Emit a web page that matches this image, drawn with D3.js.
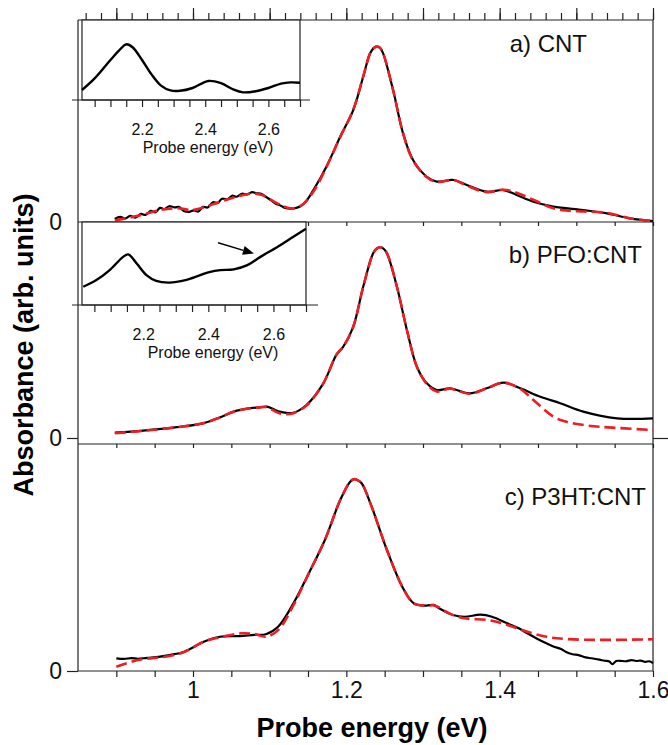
<!DOCTYPE html>
<html>
<head>
<meta charset="utf-8">
<script src="https://cdn.jsdelivr.net/npm/d3@7/dist/d3.min.js"></script>
<style>
  body { margin: 0; background: #fff; }
  svg { display: block; font-family: "Liberation Sans", Arial, sans-serif; }
</style>
</head>
<body>
<svg id="chart" width="668" height="745"></svg>
<script>
// ---- data: [probe energy (eV), absorbance (arb. units)] ----
const cntMeasured = [
  [0.898,0.015],[0.905,0.025],[0.912,0.018],[0.918,0.030],[0.925,0.022],[0.932,0.040],
  [0.938,0.035],[0.945,0.055],[0.951,0.048],[0.957,0.070],[0.963,0.064],[0.969,0.078],
  [0.976,0.072],[0.982,0.074],[0.988,0.055],[0.995,0.050],[1.001,0.058],[1.007,0.052],
  [1.013,0.075],[1.019,0.072],[1.026,0.098],[1.032,0.094],[1.038,0.115],[1.045,0.112],
  [1.051,0.130],[1.057,0.125],[1.064,0.140],[1.070,0.136],[1.077,0.148],[1.083,0.142],
  [1.089,0.140],[1.095,0.125],[1.101,0.110],[1.108,0.090],[1.114,0.082],[1.120,0.070],
  [1.127,0.066],[1.133,0.068],[1.140,0.078],[1.147,0.100],[1.157,0.158],[1.174,0.274],
  [1.192,0.422],[1.209,0.554],[1.222,0.719],[1.231,0.835],[1.236,0.862],[1.240,0.868],
  [1.244,0.862],[1.248,0.835],[1.261,0.653],[1.274,0.439],[1.287,0.307],[1.305,0.224],
  [1.318,0.200],[1.340,0.208],[1.357,0.183],[1.383,0.150],[1.405,0.158],[1.422,0.134],
  [1.444,0.100],[1.470,0.076],[1.509,0.059],[1.540,0.043],[1.570,0.018],[1.600,0.005]
];
const cntFit = [
  [0.898,0.008],[0.930,0.032],[0.960,0.062],[0.980,0.068],[1.000,0.060],[1.020,0.080],
  [1.050,0.118],[1.075,0.140],[1.090,0.134],[1.110,0.092],[1.127,0.068],[1.140,0.078],
  [1.157,0.150],[1.174,0.272],[1.192,0.420],[1.209,0.556],[1.222,0.720],[1.231,0.835],
  [1.236,0.862],[1.240,0.868],[1.244,0.862],[1.248,0.835],[1.261,0.653],[1.274,0.440],
  [1.287,0.305],[1.305,0.222],[1.318,0.198],[1.340,0.208],[1.357,0.180],[1.383,0.148],
  [1.405,0.160],[1.422,0.145],[1.444,0.110],[1.470,0.068],[1.490,0.056],[1.509,0.052],
  [1.540,0.045],[1.570,0.018],[1.600,0.004]
];
const pfoMeasured = [
  [0.898,0.025],[0.935,0.034],[0.979,0.050],[1.013,0.068],[1.035,0.095],[1.053,0.122],
  [1.075,0.138],[1.087,0.142],[1.096,0.145],[1.106,0.132],[1.113,0.122],[1.122,0.116],
  [1.131,0.117],[1.148,0.153],[1.170,0.253],[1.187,0.385],[1.196,0.423],[1.209,0.515],
  [1.222,0.700],[1.235,0.855],[1.240,0.878],[1.244,0.883],[1.248,0.878],[1.253,0.855],
  [1.266,0.700],[1.279,0.500],[1.292,0.330],[1.305,0.253],[1.318,0.222],[1.335,0.230],
  [1.361,0.207],[1.383,0.230],[1.405,0.256],[1.427,0.230],[1.453,0.191],[1.479,0.161],
  [1.509,0.122],[1.553,0.091],[1.600,0.091]
];
const pfoFit = [
  [0.898,0.022],[0.935,0.033],[0.979,0.050],[1.013,0.068],[1.035,0.095],[1.053,0.122],
  [1.075,0.138],[1.087,0.142],[1.096,0.143],[1.106,0.126],[1.113,0.114],[1.122,0.110],
  [1.131,0.115],[1.148,0.150],[1.170,0.253],[1.187,0.385],[1.196,0.423],[1.209,0.515],
  [1.222,0.700],[1.235,0.855],[1.240,0.878],[1.244,0.883],[1.248,0.878],[1.253,0.855],
  [1.266,0.700],[1.279,0.500],[1.292,0.330],[1.305,0.250],[1.318,0.215],[1.335,0.228],
  [1.361,0.205],[1.383,0.230],[1.405,0.256],[1.427,0.228],[1.444,0.176],[1.470,0.099],
  [1.487,0.075],[1.510,0.060],[1.531,0.052],[1.600,0.037]
];
const p3htMeasured = [
  [0.900,0.056],[0.910,0.053],[0.920,0.057],[0.928,0.054],[0.940,0.058],[0.955,0.062],
  [0.969,0.070],[0.989,0.085],[1.014,0.129],[1.035,0.151],[1.060,0.154],[1.080,0.159],
  [1.095,0.162],[1.111,0.195],[1.131,0.298],[1.151,0.430],[1.172,0.577],[1.192,0.753],
  [1.205,0.834],[1.210,0.845],[1.215,0.840],[1.220,0.827],[1.233,0.724],[1.253,0.533],
  [1.273,0.371],[1.288,0.298],[1.304,0.288],[1.314,0.291],[1.321,0.276],[1.339,0.247],
  [1.354,0.239],[1.375,0.248],[1.390,0.239],[1.410,0.210],[1.425,0.188],[1.436,0.166],
  [1.450,0.140],[1.461,0.122],[1.470,0.108],[1.480,0.097],[1.486,0.085],[1.495,0.074],
  [1.503,0.070],[1.512,0.060],[1.520,0.056],[1.530,0.050],[1.537,0.045],[1.543,0.042],
  [1.547,0.030],[1.552,0.044],[1.557,0.045],[1.565,0.043],[1.572,0.048],[1.578,0.044],
  [1.584,0.046],[1.590,0.040],[1.595,0.043],[1.600,0.035]
];
const p3htFit = [
  [0.900,0.019],[0.928,0.048],[0.969,0.066],[0.989,0.085],[1.014,0.129],[1.035,0.148],
  [1.063,0.166],[1.080,0.163],[1.095,0.151],[1.111,0.180],[1.131,0.290],[1.151,0.430],
  [1.172,0.577],[1.192,0.753],[1.205,0.834],[1.210,0.845],[1.215,0.840],[1.220,0.827],
  [1.233,0.724],[1.253,0.533],[1.273,0.371],[1.288,0.298],[1.304,0.288],[1.314,0.289],
  [1.321,0.280],[1.334,0.254],[1.354,0.232],[1.384,0.225],[1.410,0.203],[1.436,0.173],
  [1.461,0.151],[1.486,0.141],[1.537,0.137],[1.600,0.140]
];
// insets (visible range)
const cntVisible = [
  [2.010,0.125],[2.050,0.270],[2.100,0.500],[2.130,0.630],[2.150,0.696],[2.170,0.660],
  [2.200,0.500],[2.230,0.320],[2.260,0.180],[2.290,0.120],[2.320,0.115],[2.360,0.150],
  [2.410,0.238],[2.450,0.210],[2.490,0.130],[2.520,0.096],[2.560,0.110],[2.600,0.150],
  [2.640,0.205],[2.670,0.220],[2.700,0.215]
];
const pfoVisible = [
  [2.016,0.220],[2.056,0.300],[2.097,0.420],[2.138,0.580],[2.154,0.610],[2.180,0.500],
  [2.210,0.360],[2.240,0.290],[2.280,0.270],[2.330,0.300],[2.375,0.360],[2.406,0.400],
  [2.437,0.420],[2.478,0.430],[2.520,0.480],[2.560,0.580],[2.612,0.700],[2.660,0.820],
  [2.700,0.920]
];
const xTickLabels = [1, 1.2, 1.4, 1.6];
const insetTickLabels = [2.2, 2.4, 2.6];
const panelNames = ["a) CNT", "b) PFO:CNT", "c) P3HT:CNT"];
const arrowFrom = [2.43, 0.75];
const arrowTo = [2.54, 0.62];

// ---- layout ----
const svg = d3.select("#chart");
const left = 78, right = 653;
const x = d3.scaleLinear().domain([0.85, 1.6]).range([left, right]);
const near = (arr, d) => arr.some(v => Math.abs(v - d) < 1e-6);

const panels = [
  { name: panelNames[0], top: 20, zero: 222, measured: cntMeasured, fit: cntFit, lx: 587, ly: 52 },
  { name: panelNames[1], top: 222, zero: 438, measured: pfoMeasured, fit: pfoFit, lx: 642, ly: 263 },
  { name: panelNames[2], top: 444, zero: 671, measured: p3htMeasured, fit: p3htFit, lx: 646, ly: 505 }
];

const frame = svg.append("g").attr("stroke", "#222").attr("stroke-width", 1.2).attr("fill", "none");
// outer frame + panel dividers
frame.append("line").attr("x1", left).attr("x2", left).attr("y1", 20).attr("y2", 671);
frame.append("line").attr("x1", right).attr("x2", right).attr("y1", 20).attr("y2", 671);
[20, 222, 444, 671].forEach(yy =>
  frame.append("line").attr("x1", left).attr("x2", right).attr("y1", yy).attr("y2", yy));

const minorE = d3.range(18, 33).map(i => +(i * 0.05).toFixed(2));

function styleAxis(g) {
  g.select(".domain").remove();
  g.selectAll(".tick line").attr("stroke", "#222").attr("stroke-width", 1.2);
  g.selectAll("text").attr("fill", "#111");
}

// top axis of panel a
svg.append("g").attr("transform", "translate(0,20)")
  .call(d3.axisTop(x).tickValues(d3.range(43, 81).map(i => +(i * 0.02).toFixed(2))).tickSize(7).tickFormat(""))
  .call(styleAxis);
svg.append("g").attr("transform", "translate(0,20)")
  .call(d3.axisTop(x).tickValues(d3.range(9, 17).map(i => i / 10)).tickSize(12).tickFormat(""))
  .call(styleAxis);

// inner dividers: short ticks pointing down
[222, 444].forEach(yy => {
  svg.append("g").attr("transform", `translate(0,${yy})`)
    .call(d3.axisBottom(x).tickValues(minorE).tickSize(4).tickFormat(""))
    .call(styleAxis);
});

// main bottom axis
svg.append("g").attr("transform", "translate(0,671)")
  .call(d3.axisBottom(x).tickValues(minorE).tickSize(6).tickPadding(5)
    .tickFormat(d => near(xTickLabels, d) ? d3.format("~g")(d) : ""))
  .call(styleAxis)
  .call(g => g.selectAll("text").attr("font-size", 23));

svg.append("text").attr("x", 372).attr("y", 737).attr("text-anchor", "middle")
  .attr("font-size", 27).attr("font-weight", "bold").text("Probe energy (eV)");
svg.append("text").attr("transform", "translate(33,345) rotate(-90)").attr("text-anchor", "middle")
  .attr("font-size", 27).attr("font-weight", "bold").text("Absorbance (arb. units)");

const line = d3.line().curve(d3.curveCatmullRom.alpha(0.5));

panels.forEach((p, i) => {
  const y = d3.scaleLinear().domain([0, 1]).range([p.zero, p.top]);
  const g = svg.append("g");
  // zero label, with outward ticks for b and c
  g.append("g").attr("transform", `translate(${left},0)`)
    .call(d3.axisLeft(y).tickValues([0]).tickSize(i === 0 ? 0 : 11).tickPadding(i === 0 ? 16 : 5).tickFormat(d3.format("d")))
    .call(styleAxis)
    .call(a => a.selectAll("text").attr("font-size", 23));
  if (i === 1) {
    g.append("g").attr("transform", `translate(${right},0)`)
      .call(d3.axisRight(y).tickValues([0]).tickSize(15).tickFormat(""))
      .call(styleAxis);
  }
  g.append("path").attr("d", line(p.measured.map(d => [x(d[0]), y(d[1])])))
    .attr("fill", "none").attr("stroke", "#000").attr("stroke-width", 2.2).attr("stroke-linejoin", "round");
  g.append("path").attr("d", line(p.fit.map(d => [x(d[0]), y(d[1])])))
    .attr("fill", "none").attr("stroke", "#ee1d23").attr("stroke-width", 2.6)
    .attr("stroke-dasharray", "11,5");
  g.append("text").attr("x", p.lx).attr("y", p.ly).attr("text-anchor", "end")
    .attr("font-size", 24).attr("fill", "#111").text(p.name);
});

// ---- insets ----
const insets = [
  { data: cntVisible, top: 20, bottom: 100, x0: 82, x1: 300, dom: [2.01, 2.7], axisEnd: 310, tx: 208 },
  { data: pfoVisible, top: 222, bottom: 305, x0: 82, x1: 306, dom: [2.012, 2.7], axisEnd: 318, tx: 213 }
];
const insetTicks = d3.range(41, 55).map(i => +(i * 0.05).toFixed(2));

insets.forEach((s, i) => {
  const xi = d3.scaleLinear().domain(s.dom).range([s.x0, s.x1]);
  const yi = d3.scaleLinear().domain([0, 1]).range([s.bottom, s.top]);
  const g = svg.append("g");
  g.append("rect").attr("x", s.x0).attr("y", s.top).attr("width", s.x1 - s.x0).attr("height", s.bottom - s.top)
    .attr("fill", "#fff").attr("stroke", "#222").attr("stroke-width", 1.2);
  g.append("line").attr("x1", 72).attr("x2", s.axisEnd).attr("y1", s.bottom).attr("y2", s.bottom)
    .attr("stroke", "#222").attr("stroke-width", 1.2);
  g.append("g").attr("transform", `translate(0,${s.bottom})`)
    .call(d3.axisBottom(xi).tickValues(insetTicks).tickSize(7).tickPadding(17)
      .tickFormat(d => near(insetTickLabels, d) ? d3.format(".1f")(d) : ""))
    .call(styleAxis)
    .call(a => a.selectAll("text").attr("font-size", 16));
  g.append("text").attr("x", s.tx).attr("y", s.bottom + 53).attr("text-anchor", "middle")
    .attr("font-size", 16).attr("fill", "#111").text("Probe energy (eV)");
  g.append("path").attr("d", line(s.data.map(d => [xi(d[0]), yi(d[1])])))
    .attr("fill", "none").attr("stroke", "#000").attr("stroke-width", 2.4);
  if (i === 1) {
    const [ax, ay] = [xi(arrowFrom[0]), yi(arrowFrom[1])];
    const [bx, by] = [xi(arrowTo[0]), yi(arrowTo[1])];
    const ang = Math.atan2(by - ay, bx - ax);
    const hl = 11, hw = 4.5;
    const bxs = bx - hl * Math.cos(ang), bys = by - hl * Math.sin(ang);
    g.append("line").attr("x1", ax).attr("y1", ay).attr("x2", bxs).attr("y2", bys)
      .attr("stroke", "#000").attr("stroke-width", 1.5);
    g.append("path").attr("fill", "#000").attr("d",
      `M${bx},${by}L${bxs - hw * Math.sin(ang)},${bys + hw * Math.cos(ang)}L${bxs + hw * Math.sin(ang)},${bys - hw * Math.cos(ang)}Z`);
  }
});
</script>
</body>
</html>
